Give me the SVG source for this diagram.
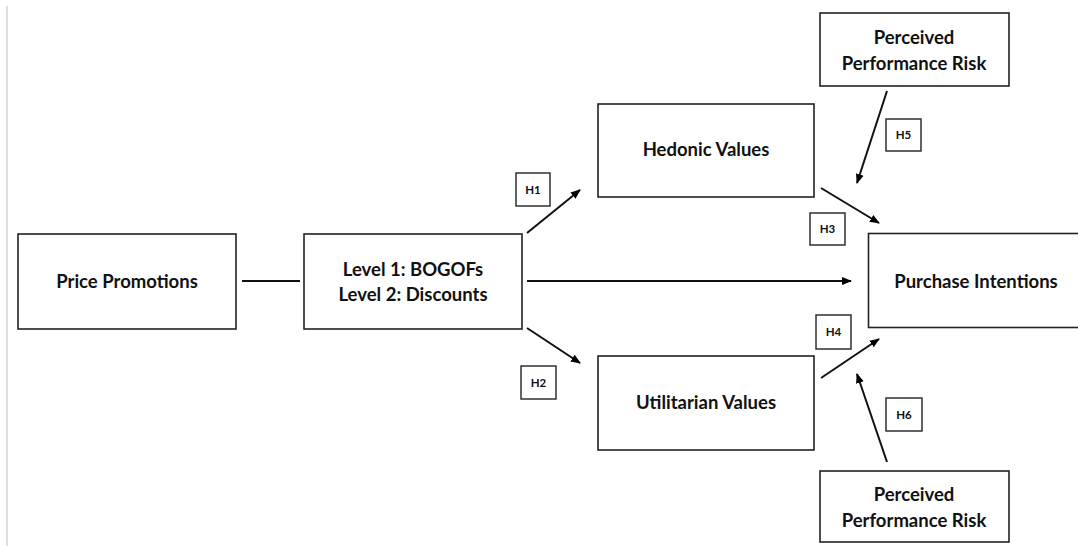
<svg xmlns="http://www.w3.org/2000/svg" width="1078" height="546" viewBox="0 0 1078 546">
<defs>
<marker id="ah" viewBox="0 0 10 10" refX="9" refY="5" markerWidth="5" markerHeight="5" orient="auto" markerUnits="strokeWidth">
<path d="M0,1 L10,5 L0,9 Z" fill="#000"/>
</marker>
<style>
.box{fill:#fff;stroke:#222;stroke-width:1.6}
.hb{fill:#fff;stroke:#222;stroke-width:1.4}
.t{font-family:Lato,"Liberation Sans",sans-serif;font-weight:bold;font-size:18.5px;fill:#111;text-anchor:middle}
.h{font-family:Lato,"Liberation Sans",sans-serif;font-weight:bold;font-size:11.5px;fill:#111;text-anchor:middle}
.c{stroke:#111;stroke-width:2;fill:none}
.ca{stroke:#111;stroke-width:2;fill:none;marker-end:url(#ah)}
</style>
</defs>
<rect width="1078" height="546" fill="#fff"/>
<line x1="7" y1="6" x2="7" y2="546" stroke="#c8c8c8" stroke-width="1.2"/>
<g id="connectors">
<line class="c" x1="242" y1="281" x2="300" y2="281"/>
<line class="ca" x1="527" y1="281" x2="851" y2="281"/>
<line class="ca" x1="527" y1="233" x2="580" y2="190"/>
<line class="ca" x1="527" y1="328" x2="580" y2="363"/>
<line class="ca" x1="821" y1="188" x2="879" y2="223"/>
<line class="ca" x1="821" y1="378" x2="879" y2="339"/>
<line class="ca" x1="887" y1="91" x2="857" y2="183"/>
<line class="ca" x1="887" y1="462" x2="857" y2="374"/>
</g>
<g id="price-promotions">
<rect class="box" x="18" y="234" width="218" height="95"/>
<text class="t" x="127" y="288">Price Promotions</text>
</g>
<g id="levels">
<rect class="box" x="304" y="234" width="218" height="95"/>
<text class="t" x="413" y="276">Level 1: BOGOFs</text>
<text class="t" x="413" y="301">Level 2: Discounts</text>
</g>
<g id="hedonic">
<rect class="box" x="598" y="104" width="216" height="93"/>
<text class="t" x="706" y="156">Hedonic Values</text>
</g>
<g id="utilitarian">
<rect class="box" x="598" y="356" width="216" height="94"/>
<text class="t" x="706" y="409">Utilitarian Values</text>
</g>
<g id="purchase">
<rect class="box" x="868.5" y="233.5" width="215" height="94"/>
<text class="t" x="976" y="288">Purchase Intentions</text>
</g>
<g id="risk-top">
<rect class="box" x="820" y="13" width="189" height="73"/>
<text class="t" x="914" y="44">Perceived</text>
<text class="t" x="914" y="70">Performance Risk</text>
</g>
<g id="risk-bottom">
<rect class="box" x="820" y="471" width="189" height="71"/>
<text class="t" x="914" y="501">Perceived</text>
<text class="t" x="914" y="527">Performance Risk</text>
</g>
<g id="h1"><rect class="hb" x="516" y="173" width="34" height="33"/><text class="h" x="533" y="194">H1</text></g>
<g id="h2"><rect class="hb" x="521" y="366" width="35" height="33"/><text class="h" x="538.5" y="387">H2</text></g>
<g id="h3"><rect class="hb" x="810" y="213" width="35" height="32"/><text class="h" x="827.5" y="233">H3</text></g>
<g id="h4"><rect class="hb" x="816" y="315" width="35" height="34"/><text class="h" x="833.5" y="336">H4</text></g>
<g id="h5"><rect class="hb" x="886" y="119" width="35" height="32"/><text class="h" x="903.5" y="139">H5</text></g>
<g id="h6"><rect class="hb" x="886" y="398" width="36" height="33"/><text class="h" x="904" y="419">H6</text></g>
</svg>
